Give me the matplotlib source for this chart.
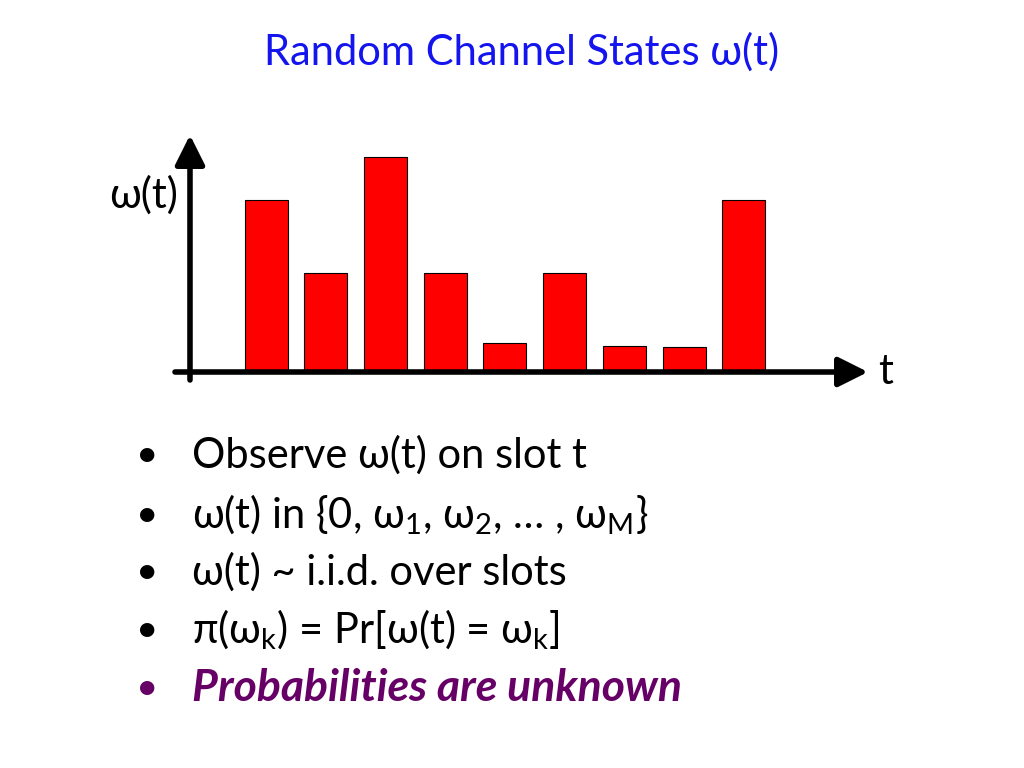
import matplotlib
matplotlib.use("Agg")
import matplotlib.pyplot as plt

# slot values of the channel state (arbitrary units)
slots = [0, 1, 2, 3, 4, 5, 6, 7, 8]
omega = [4.0, 2.3, 5.0, 2.3, 0.68, 2.3, 0.6, 0.58, 4.0]

title = "Random Channel States ω(t)"
bullets = [
    "Observe ω(t) on slot t",
    r"ω(t) in {0, $\mathrm{ω}_1$, $\mathrm{ω}_2$, … , $\mathrm{ω}_\mathrm{M}$}",
    "ω(t) ~ i.i.d. over slots",
    r"π($\mathrm{ω}_\mathrm{k}$) = Pr[ω(t) = $\mathrm{ω}_\mathrm{k}$]",
    "Probabilities are unknown",
]
bullet_y = [455, 515, 572, 630, 688]

plt.rcParams['font.family'] = ['Lato', 'DejaVu Sans']
plt.rcParams['mathtext.fontset'] = 'custom'
plt.rcParams['mathtext.rm'] = 'Lato'
plt.rcParams['mathtext.it'] = 'Lato:italic'

W, H = 1024, 768
fig = plt.figure(figsize=(W / 100, H / 100), dpi=100)

def px(x, y):
    return x / W, 1 - y / H

# axes placed over the drawing area of the slide
ax = fig.add_axes([175 / W, 1 - 380 / H, 693 / W, 245 / H])
ax.bar(slots, omega, width=0.72, color='#ff0000', edgecolor='black', linewidth=0.8, zorder=2)
ax.set_xlim(-1.524, 10.08)
ax.set_ylim(-0.186, 5.51)
ax.axis('off')

arrow = dict(arrowstyle='-|>,head_length=0.9,head_width=0.45', lw=4, color='black',
             shrinkA=0, shrinkB=0, mutation_scale=20)
ax.annotate("", xy=(10.08, 0), xytext=(-1.524, 0), arrowprops=arrow, zorder=3, annotation_clip=False)
ax.annotate("", xy=(-1.273, 5.51), xytext=(-1.273, -0.186), arrowprops=arrow, zorder=3, annotation_clip=False)

fig.text(*px(144, 195), "ω(t)", fontsize=30, ha='center', va='center')
fig.text(*px(886, 372), "t", fontsize=30, ha='center', va='center')

fig.text(*px(522, 52), title, fontsize=30, color='#1414ee', ha='center', va='center')

for i, (txt, y) in enumerate(zip(bullets, bullet_y)):
    last = i == len(bullets) - 1
    col = '#660066' if last else 'black'
    fig.text(*px(147, y), "•", fontsize=28, color=col, ha='center', va='center')
    fig.text(*px(192, y), txt, fontsize=32 if last else 30, color=col, ha='left', va='center',
             fontstyle='italic' if last else 'normal',
             fontweight='bold' if last else 'normal')

fig.savefig("out.png", dpi=100)
